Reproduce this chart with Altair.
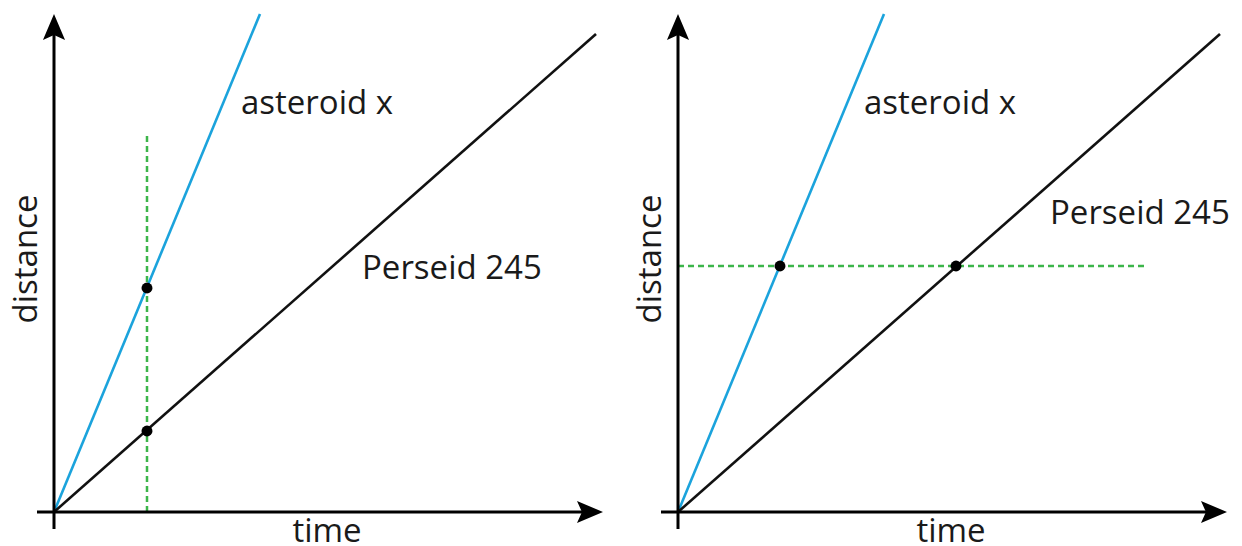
import altair as alt
import pandas as pd

# ---- data (arbitrary distance/time units, origin at 0,0) ----
series_names = ["asteroid x", "Perseid 245"]
line_t_end = [206, 542]
line_d_end = [498, 478]
line_colors = ["#1ba3dc", "#111111"]

# left panel: vertical guide at one time, points on both lines
left_guide_t = [93, 93]
left_guide_d = [0, 377]
left_pts_t = [93, 93]
left_pts_d = [224, 81]

# right panel: horizontal guide at one distance, points on both lines
right_guide_t = [0, 469]
right_guide_d = [246, 246]
right_pts_t = [102, 278]
right_pts_d = [246, 246]

# axis extents
axis_min = -17
y_axis_top = 486
x_axis_right = 537
arrow_up_center = [0, 485]
arrow_right_center = [536, 0]

# labels
left_label_text = ["asteroid x", "Perseid 245"]
left_label_t = [187, 308]
left_label_d = [398, 233]
right_label_text = ["asteroid x", "Perseid 245"]
right_label_t = [186, 372]
right_label_d = [398, 288]
xlabel_text = "time"
xlabel_pos = [273, -30]
ylabel_text = "distance"
ylabel_pos = [-17, 253]

XDOM = [-46, 554]
YDOM = [-28, 502]
FONT = "Open Sans"
FS = 33

xs = alt.Scale(domain=XDOM, nice=False, zero=False)
ys = alt.Scale(domain=YDOM, nice=False, zero=False)


def X(field="t"):
    return alt.X(f"{field}:Q", scale=xs, axis=None)


def Y(field="d"):
    return alt.Y(f"{field}:Q", scale=ys, axis=None)


lines_df = pd.DataFrame(
    [
        {"t": 0, "d": 0, "s": n, "o": 0} for n in series_names
    ]
    + [
        {"t": te, "d": de, "s": n, "o": 1}
        for n, te, de in zip(series_names, line_t_end, line_d_end)
    ]
)

axes_df = pd.DataFrame(
    [
        {"t": axis_min, "d": 0, "a": "x", "o": 0},
        {"t": x_axis_right, "d": 0, "a": "x", "o": 1},
        {"t": 0, "d": axis_min, "a": "y", "o": 0},
        {"t": 0, "d": y_axis_top, "a": "y", "o": 1},
    ]
)

UP = "M0,-1L0.85,1L0,0.62L-0.85,1Z"
RIGHT = "M1,0L-1,0.85L-0.62,0L-1,-0.85Z"


def panel(guide_t, guide_d, pts_t, pts_d, lab_text, lab_t, lab_d):
    axes = alt.Chart(axes_df).mark_line(color="#000000", strokeWidth=3).encode(
        x=X(), y=Y(), detail="a:N", order="o:Q"
    )
    up = alt.Chart(pd.DataFrame({"t": [arrow_up_center[0]], "d": [arrow_up_center[1]]})).mark_point(
        shape=UP, filled=True, size=676, color="#000000", opacity=1
    ).encode(x=X(), y=Y())
    right = alt.Chart(pd.DataFrame({"t": [arrow_right_center[0]], "d": [arrow_right_center[1]]})).mark_point(
        shape=RIGHT, filled=True, size=676, color="#000000", opacity=1
    ).encode(x=X(), y=Y())
    lines = alt.Chart(lines_df).mark_line(strokeWidth=2.6).encode(
        x=X(),
        y=Y(),
        order="o:Q",
        color=alt.Color("s:N", scale=alt.Scale(domain=series_names, range=line_colors), legend=None),
    )
    guide = alt.Chart(pd.DataFrame({"t": guide_t, "d": guide_d})).mark_line(
        color="#3cb54a", strokeWidth=2.5, strokeDash=[6, 4]
    ).encode(x=X(), y=Y())
    pts = alt.Chart(pd.DataFrame({"t": pts_t, "d": pts_d})).mark_point(
        filled=True, size=120, color="#000000", opacity=1
    ).encode(x=X(), y=Y())
    labels = alt.Chart(pd.DataFrame({"t": lab_t, "d": lab_d, "txt": lab_text})).mark_text(
        align="left", baseline="alphabetic", font=FONT, fontSize=FS, color="#1a1a1a"
    ).encode(x=X(), y=Y(), text="txt:N")
    xl = alt.Chart(pd.DataFrame({"t": [xlabel_pos[0]], "d": [xlabel_pos[1]], "txt": [xlabel_text]})).mark_text(
        align="center", baseline="alphabetic", font=FONT, fontSize=FS, color="#1a1a1a"
    ).encode(x=X(), y=Y(), text="txt:N")
    yl = alt.Chart(pd.DataFrame({"t": [ylabel_pos[0]], "d": [ylabel_pos[1]], "txt": [ylabel_text]})).mark_text(
        align="center", baseline="alphabetic", angle=270, font=FONT, fontSize=FS, color="#1a1a1a"
    ).encode(x=X(), y=Y(), text="txt:N")
    return alt.layer(guide, lines, axes, up, right, pts, labels, xl, yl).properties(
        width=600, height=530
    )


left = panel(left_guide_t, left_guide_d, left_pts_t, left_pts_d, left_label_text, left_label_t, left_label_d)
right = panel(right_guide_t, right_guide_d, right_pts_t, right_pts_d, right_label_text, right_label_t, right_label_d)

chart = (
    alt.hconcat(left, right, spacing=24)
    .properties(padding=0, background="white")
    .configure_view(stroke=None)
)

chart.save("out.html", embed_options={"renderer": "svg", "actions": False})
